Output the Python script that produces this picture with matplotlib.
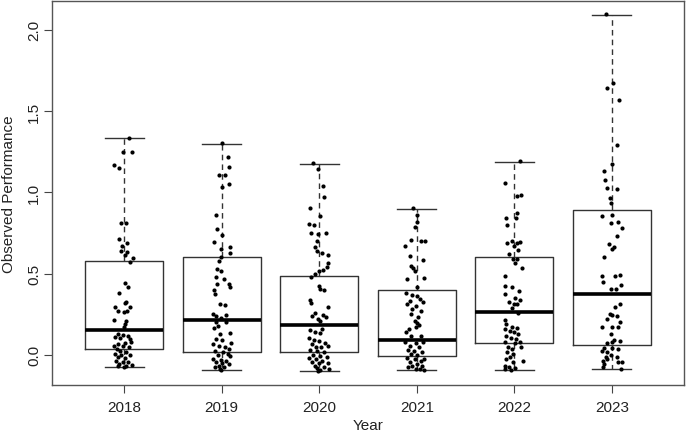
import matplotlib
matplotlib.use("Agg")
import matplotlib.pyplot as plt
import numpy as np

plt.rcParams['font.family'] = ['Liberation Sans', 'DejaVu Sans']

years = ["2018", "2019", "2020", "2021", "2022", "2023"]

# box statistics
whis_lo = [-0.078, -0.092, -0.102, -0.092, -0.092, -0.088]
q1 = [0.035, 0.015, 0.015, -0.010, 0.072, 0.062]
med = [0.154, 0.213, 0.185, 0.088, 0.261, 0.375]
q3 = [0.575, 0.603, 0.484, 0.396, 0.603, 0.889]
whis_hi = [1.332, 1.300, 1.175, 0.898, 1.186, 2.092]

# observed values per year
perf_2018 = [1.333, 1.245, 1.249, 1.169, 1.151, 0.809, 0.812, 0.712, 0.689, 0.671,
             0.640, 0.630, 0.614, 0.593, 0.569, 0.441, 0.418, 0.378, 0.326, 0.316,
             0.295, 0.292, 0.267, 0.261, 0.271, 0.215, 0.209, 0.189, 0.169, 0.127,
             0.121, 0.117, 0.107, 0.101, 0.097, 0.080, 0.072, 0.066, 0.055, 0.052,
             0.046, 0.035, 0.025, 0.018, 0.004, -0.002, -0.002, -0.016, -0.022, -0.037,
             -0.043, -0.047, -0.057, -0.068, -0.071, -0.063, -0.078]
perf_2019 = [1.303, 1.215, 1.157, 1.108, 1.104, 1.034, 1.049, 0.858, 0.772, 0.737,
             0.692, 0.665, 0.649, 0.628, 0.603, 0.575, 0.527, 0.517, 0.476, 0.466,
             0.435, 0.435, 0.415, 0.398, 0.374, 0.312, 0.306, 0.250, 0.244, 0.236,
             0.226, 0.199, 0.199, 0.178, 0.164, 0.132, 0.127, 0.097, 0.090, 0.066,
             0.070, 0.055, 0.046, 0.035, 0.025, 0.015, 0.004, -0.002, -0.006, -0.026,
             -0.033, -0.037, -0.047, -0.053, -0.057, -0.068, -0.074, -0.078, -0.088, -0.094]
perf_2020 = [1.180, 1.145, 1.040, 0.969, 0.903, 0.855, 0.804, 0.796, 0.749, 0.741,
             0.749, 0.698, 0.661, 0.640, 0.624, 0.615, 0.564, 0.542, 0.521, 0.513,
             0.497, 0.480, 0.425, 0.404, 0.398, 0.337, 0.316, 0.295, 0.255, 0.240,
             0.246, 0.230, 0.220, 0.206, 0.152, 0.142, 0.132, 0.158, 0.103, 0.090,
             0.082, 0.070, 0.055, 0.066, 0.049, 0.046, 0.029, 0.021, 0.015, 0.000,
             -0.006, -0.012, -0.020, -0.026, -0.037, -0.047, -0.053, -0.053, -0.068, -0.074,
             -0.082, -0.094, -0.088, -0.098]
perf_2021 = [0.903, 0.860, 0.818, 0.784, 0.706, 0.698, 0.698, 0.667, 0.609, 0.583,
             0.548, 0.532, 0.517, 0.466, 0.470, 0.415, 0.380, 0.367, 0.363, 0.343,
             0.332, 0.322, 0.312, 0.302, 0.281, 0.271, 0.250, 0.230, 0.209, 0.195,
             0.158, 0.169, 0.183, 0.138, 0.117, 0.113, 0.076, 0.072, 0.080, 0.055,
             0.046, 0.031, 0.025, 0.018, 0.004, -0.002, -0.022, -0.026, -0.037, -0.026,
             -0.047, -0.057, -0.068, -0.071, -0.078, -0.088, -0.088, -0.092]
perf_2022 = [1.190, 1.055, 0.979, 0.985, 0.872, 0.841, 0.841, 0.800, 0.698, 0.686,
             0.686, 0.692, 0.671, 0.646, 0.620, 0.589, 0.589, 0.562, 0.534, 0.486,
             0.425, 0.415, 0.374, 0.394, 0.347, 0.326, 0.337, 0.312, 0.312, 0.287,
             0.255, 0.214, 0.189, 0.172, 0.164, 0.158, 0.148, 0.138, 0.127, 0.117,
             0.101, 0.097, 0.076, 0.070, 0.076, 0.046, 0.035, 0.046, 0.015, 0.004,
             -0.016, -0.041, -0.026, -0.047, -0.070, -0.078, -0.084, -0.088, -0.092]
perf_2023 = [2.095, 1.643, 1.670, 1.567, 1.292, 1.174, 1.130, 1.077, 1.028, 1.020,
             0.962, 0.934, 0.855, 0.860, 0.809, 0.818, 0.778, 0.729, 0.681, 0.661,
             0.650, 0.601, 0.482, 0.486, 0.490, 0.449, 0.431, 0.404, 0.404, 0.310,
             0.292, 0.250, 0.240, 0.244, 0.220, 0.203, 0.169, 0.169, 0.169, 0.127,
             0.086, 0.090, 0.080, 0.070, 0.039, 0.039, 0.035, 0.025, 0.015, -0.002,
             -0.016, -0.037, -0.026, -0.016, -0.047, -0.043, -0.057, -0.078, -0.088]

# horizontal jitter of each point (category units)
jit_2018 = [0.05, -0.01, 0.08, -0.10, -0.05, -0.03, 0.02, -0.05, 0.03, -0.02,
            -0.03, 0.03, 0.01, 0.09, 0.06, 0.01, 0.04, -0.05, 0.02, 0.01,
            -0.09, 0.06, -0.06, 0.00, 0.03, -0.10, 0.02, 0.01, 0.00, -0.06,
            -0.01, 0.04, -0.09, -0.04, 0.06, 0.07, 0.01, -0.06, -0.10, -0.01,
            0.05, -0.07, -0.04, 0.02, -0.09, -0.03, 0.06, -0.06, 0.01, -0.08,
            -0.01, 0.04, -0.05, 0.02, -0.06, 0.08, 0.00]
jit_2019 = [0.00, 0.06, 0.07, -0.03, 0.03, 0.00, 0.07, -0.06, -0.05, 0.00,
            -0.08, 0.09, -0.01, 0.09, -0.01, -0.03, -0.05, -0.01, -0.06, 0.02,
            -0.05, 0.07, 0.09, -0.08, -0.07, -0.02, 0.03, -0.09, 0.04, -0.06,
            -0.01, -0.06, 0.04, -0.04, -0.08, 0.08, -0.02, -0.06, 0.00, -0.09,
            0.10, -0.03, 0.03, 0.07, -0.07, 0.01, 0.06, -0.04, 0.09, -0.09,
            -0.01, 0.04, -0.06, 0.00, 0.07, -0.03, -0.07, 0.02, -0.02, -0.01]
jit_2020 = [-0.06, -0.01, 0.04, 0.05, -0.09, 0.01, -0.10, -0.05, -0.08, -0.01,
            0.07, -0.02, -0.04, -0.02, 0.03, 0.09, 0.09, 0.08, 0.04, 0.00,
            -0.04, -0.08, 0.00, 0.01, 0.05, -0.09, -0.08, 0.09, -0.04, -0.07,
            0.04, 0.07, -0.01, 0.01, -0.09, -0.04, 0.01, 0.03, -0.10, -0.05,
            0.00, 0.06, 0.09, -0.07, -0.03, 0.02, -0.09, -0.02, 0.05, -0.06,
            0.01, 0.08, -0.10, -0.03, 0.03, -0.07, 0.00, 0.09, -0.04, 0.05,
            -0.02, 0.01, 0.10, -0.01]
jit_2021 = [-0.04, 0.00, 0.00, -0.02, -0.06, 0.04, 0.08, -0.12, -0.07, 0.06,
            -0.06, -0.04, -0.02, -0.10, 0.07, 0.00, -0.11, -0.05, 0.00, 0.03,
            -0.07, 0.06, -0.10, -0.01, -0.05, 0.04, -0.06, 0.01, -0.02, 0.00,
            -0.08, -0.01, 0.02, -0.11, -0.06, 0.04, -0.12, -0.01, 0.06, -0.07,
            0.02, -0.09, -0.03, 0.05, -0.06, 0.00, -0.10, -0.02, 0.04, 0.07,
            -0.07, 0.00, -0.05, 0.05, -0.09, -0.01, 0.03, 0.07]
jit_2022 = [0.06, -0.10, 0.03, 0.07, 0.03, -0.08, 0.02, -0.07, -0.02, -0.07,
            0.03, 0.06, 0.00, 0.04, -0.05, -0.01, 0.03, 0.01, 0.08, -0.10,
            -0.10, -0.02, -0.10, 0.05, 0.01, -0.05, 0.06, 0.00, 0.03, -0.02,
            0.04, -0.10, -0.08, -0.02, 0.03, -0.10, -0.04, 0.00, 0.04, -0.08,
            -0.03, 0.02, -0.10, 0.01, 0.06, -0.06, -0.02, 0.07, -0.07, -0.01,
            -0.04, 0.09, -0.08, -0.01, -0.10, -0.05, 0.01, -0.10, -0.03]
jit_2023 = [-0.06, -0.05, 0.01, 0.07, 0.05, 0.00, -0.08, -0.07, -0.05, 0.05,
            -0.02, -0.01, -0.10, 0.00, -0.01, 0.06, 0.10, 0.05, -0.03, 0.02,
            0.00, -0.08, -0.10, 0.03, 0.08, -0.09, 0.09, -0.01, 0.04, 0.08,
            0.03, -0.02, 0.05, 0.00, -0.05, 0.08, -0.10, 0.00, 0.06, -0.01,
            0.08, 0.02, 0.00, -0.05, -0.08, 0.00, 0.06, -0.10, -0.05, -0.01,
            -0.06, -0.09, -0.05, 0.05, 0.06, 0.10, -0.08, -0.09, 0.09]

perf = [perf_2018, perf_2019, perf_2020, perf_2021, perf_2022, perf_2023]
jit = [jit_2018, jit_2019, jit_2020, jit_2021, jit_2022, jit_2023]

fig = plt.figure(figsize=(6.88, 4.35), dpi=100)
ax = fig.add_axes([52 / 688, 49 / 435, 632 / 688, 384 / 435])

stats = []
for i in range(len(years)):
    stats.append({"whislo": whis_lo[i], "q1": q1[i], "med": med[i],
                  "q3": q3[i], "whishi": whis_hi[i], "fliers": []})

pos = np.arange(1, len(years) + 1)
ax.bxp(stats, positions=pos, widths=0.8, showfliers=False,
       boxprops=dict(color='#333333', linewidth=1.0),
       medianprops=dict(color='black', linewidth=2.6, solid_capstyle='butt'),
       whiskerprops=dict(color='#333333', linewidth=1.0, linestyle=(0, (4, 3))),
       capprops=dict(color='#333333', linewidth=1.0),
       capwidths=0.4)

for i in range(len(years)):
    x = pos[i] + np.array(jit[i])
    ax.plot(x, perf[i], 'o', color='black', markersize=3.0, markeredgewidth=0)

ax.set_xlim(0.26, 6.74)
ax.set_ylim(-0.186, 2.177)
ax.set_xticks(pos)
ax.set_xticklabels(years)
ax.set_yticks([0.0, 0.5, 1.0, 1.5, 2.0])
ax.set_yticklabels(["0.0", "0.5", "1.0", "1.5", "2.0"], rotation=90, va='center')
ax.tick_params(axis='both', labelsize=11, length=6, color='#444444', labelcolor='#222222')
ax.tick_params(axis='x', pad=5)
ax.tick_params(axis='y', pad=2)
for s in ax.spines.values():
    s.set_color('#555555')
    s.set_linewidth(1.0)

ax.set_xlabel("Year", fontsize=11, color='#222222', labelpad=3)
ax.set_ylabel("Observed Performance", fontsize=11, color='#222222', labelpad=8)

fig.savefig("out.png", dpi=100)
